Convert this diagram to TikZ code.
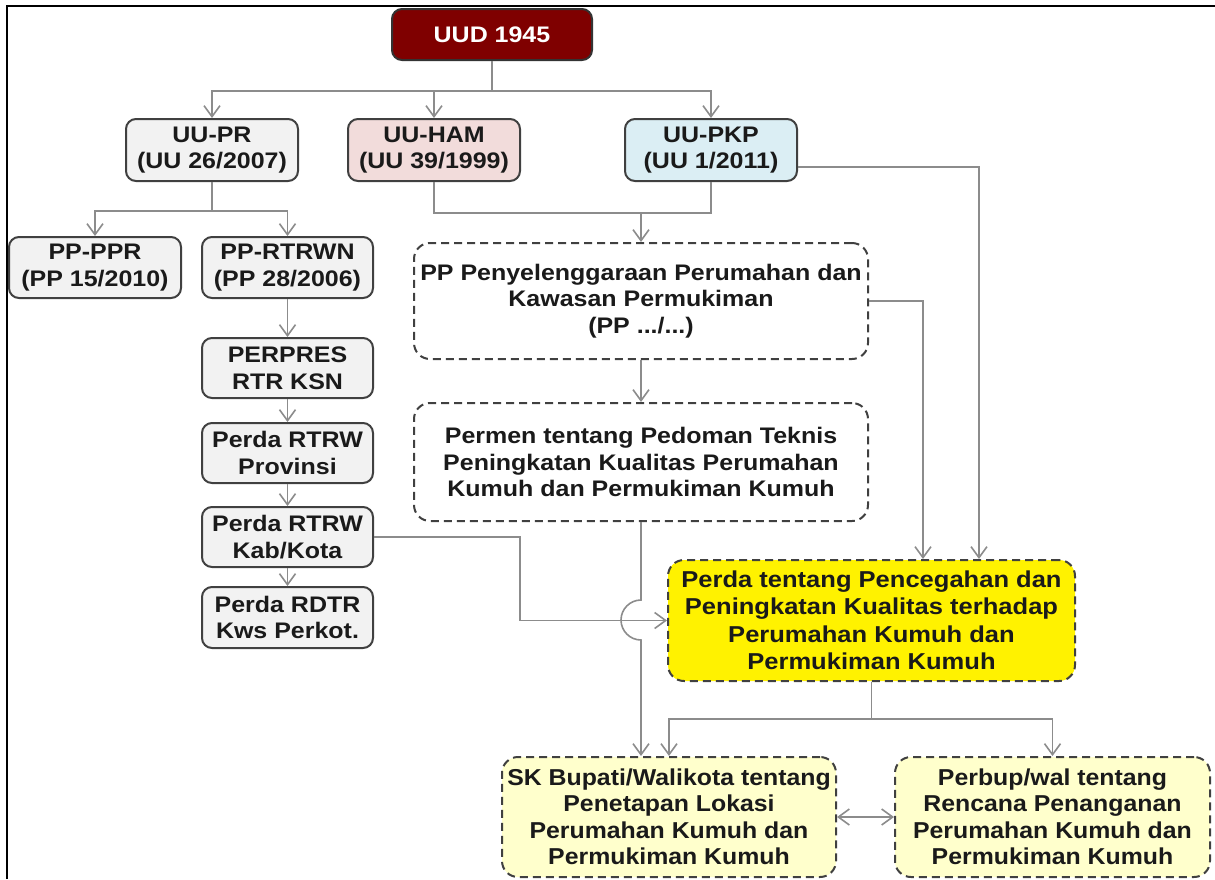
\documentclass[tikz,border=0pt]{standalone}
\usepackage{fontspec}
\setmainfont{Liberation Sans}
\newfontfamily\boxfont[FakeStretch=1.11]{Liberation Sans}
\newfontfamily\lowfont[FakeStretch=1.08]{Liberation Sans}
\usetikzlibrary{arrows.meta,calc}
\definecolor{linegray}{HTML}{8C8C8C}
\definecolor{boxedge}{HTML}{404040}
\definecolor{textdark}{HTML}{1A1A1A}
\definecolor{graybox}{HTML}{F2F2F2}
\definecolor{pinkbox}{HTML}{F2DCDB}
\definecolor{bluebox}{HTML}{DBEEF4}
\definecolor{maroon}{HTML}{7F0000}
\definecolor{paleyellow}{HTML}{FFFFCC}
\begin{document}
\begin{tikzpicture}[x=1pt,y=-1pt,
  base/.style={rounded corners=10pt, line width=2pt, draw=boxedge, align=center,
    inner sep=2pt, text=textdark,
    font=\boxfont\bfseries\fontsize{22.5}{26.5}\selectfont},
  solidbox/.style={base, fill=graybox},
  dashbox/.style={base, dash pattern=on 8pt off 5pt, rounded corners=16pt},
  lowbox/.style={dashbox, fill=paleyellow,
    font=\lowfont\bfseries\fontsize{23}{26.5}\selectfont},
  conn/.style={draw=linegray, line width=1.6pt},
  arr/.style={conn, -{Straight Barb[length=11pt,width=16pt]}},
  darr/.style={conn, {Straight Barb[length=11pt,width=16pt]}-{Straight Barb[length=11pt,width=16pt]}}
]
\useasboundingbox (0,0) rectangle (1215,879);
\fill[white] (0,0) rectangle (1215,879);
% frame lines along the top and left edges
\draw[line width=2.5pt, black] (7,879) -- (7,6) -- (1215,6);

% top of the hierarchy
\node[base, fill=maroon, draw=black!80, text=white, minimum width=200pt, minimum height=51pt]
  (uud) at (492,34.5) {UUD 1945};

% laws
\node[solidbox, minimum width=172pt, minimum height=62pt] (uupr) at (212,150) {UU-PR\\(UU 26/2007)};
\node[solidbox, fill=pinkbox, minimum width=172pt, minimum height=62pt] (uuham) at (434,150) {UU-HAM\\(UU 39/1999)};
\node[solidbox, fill=bluebox, minimum width=172pt, minimum height=62pt] (uupkp) at (711,150) {UU-PKP\\(UU 1/2011)};

% spatial planning chain
\node[solidbox, minimum width=172pt, minimum height=61pt] (pppr) at (95,267.5) {PP-PPR\\(PP 15/2010)};
\node[solidbox, minimum width=171pt, minimum height=61pt] (rtrwn) at (287.5,267.5) {PP-RTRWN\\(PP 28/2006)};
\node[solidbox, minimum width=171pt, minimum height=60pt] (perpres) at (287.5,368) {PERPRES\\RTR KSN};
\node[solidbox, minimum width=171pt, minimum height=60pt] (prov) at (287.5,453) {Perda RTRW\\Provinsi};
\node[solidbox, minimum width=171pt, minimum height=60pt] (kab) at (287.5,537) {Perda RTRW\\Kab/Kota};
\node[solidbox, minimum width=171pt, minimum height=61pt] (rdtr) at (287.5,617.5) {Perda RDTR\\Kws Perkot.};

% implementing regulations
\node[dashbox, minimum width=454pt, minimum height=116pt] (pp) at (641,301)
  {PP Penyelenggaraan Perumahan dan\\Kawasan Permukiman\\(PP .../...)};
\node[dashbox, minimum width=454pt, minimum height=118pt] (permen) at (641,462)
  {Permen tentang Pedoman Teknis\\Peningkatan Kualitas Perumahan\\Kumuh dan Permukiman Kumuh};
\node[dashbox, fill=yellow, minimum width=407pt, minimum height=121pt,
  font=\boxfont\bfseries\fontsize{23}{27.5}\selectfont] (perda) at (871.5,620.5)
  {Perda tentang Pencegahan dan\\Peningkatan Kualitas terhadap\\Perumahan Kumuh dan\\Permukiman Kumuh};
\node[lowbox, minimum width=334pt, minimum height=120pt] (sk) at (669,817)
  {SK Bupati/Walikota tentang\\Penetapan Lokasi\\Perumahan Kumuh dan\\Permukiman Kumuh};
\node[lowbox, minimum width=315pt, minimum height=120pt] (perbup) at (1052.5,817)
  {Perbup/wal tentang\\Rencana Penanganan\\Perumahan Kumuh dan\\Permukiman Kumuh};

% connectors
\draw[conn] (uud.south) -- ++(0,30) coordinate (ja);
\draw[arr] (ja) -| (uupr.north);
\draw[arr] (ja) -| (uuham.north);
\draw[arr] (ja) -| (uupkp.north);

\draw[conn] (uupr.south) -- ++(0,29) coordinate (jb);
\draw[arr] (jb) -| (pppr.north);
\draw[arr] (jb) -| (rtrwn.north);
\draw[arr] (rtrwn.south) -- (perpres.north);
\draw[arr] (perpres.south) -- (prov.north);
\draw[arr] (prov.south) -- (kab.north);
\draw[arr] (kab.south) -- (rdtr.north);

\draw[conn] (uuham.south) -- ++(0,31) coordinate (jc) -| (uupkp.south);
\draw[arr] (pp.north |- jc) -- (pp.north);
\draw[arr] (pp.south) -- (permen.north);

\draw[arr] (pp.east) -| ($(perda.north)+(51.5,0)$);
\draw[arr] ($(uupkp.east)+(0,17)$) -| ($(perda.north)+(107.5,0)$);

\draw[arr] (kab.east) -- (520,537) -- (520,620.5) -- (perda.west);
\draw[arr] (permen.south) -- (641,600)
  .. controls (630,600) and (621,609) .. (621,620)
  .. controls (621,631) and (630,640) .. (641,640)
  -- (permen.south |- sk.north);

\draw[conn] (perda.south) -- ++(0,37) coordinate (jd);
\draw[arr] (jd) -| (sk.north);
\draw[arr] (jd) -| (perbup.north);
\draw[darr] (sk.east) -- (perbup.west);
\end{tikzpicture}
\end{document}
